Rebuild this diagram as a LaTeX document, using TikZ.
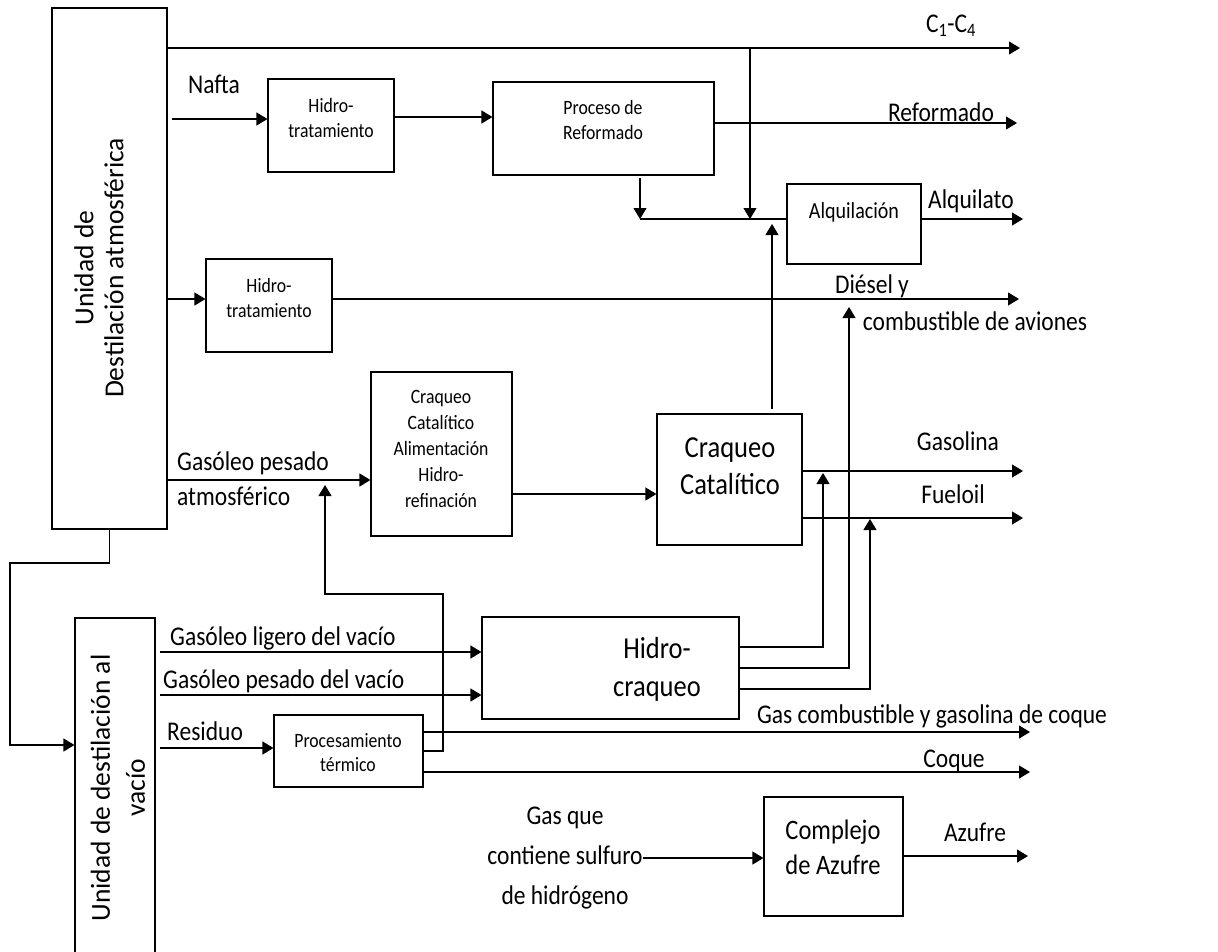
\documentclass[tikz,border=0pt]{standalone}
\usepackage{fontspec}
\setmainfont{Carlito}
\usetikzlibrary{arrows.meta,fit}
\newcommand{\myfs}[2]{\fontsize{#1}{#2}\selectfont}
\begin{document}
\begin{tikzpicture}[x=1pt,y=-1pt,
  box/.style={draw,line width=1.1pt,inner sep=0pt,rectangle},
  ln/.style={line width=1.1pt},
  arr/.style={line width=1.1pt,-{Triangle[length=11pt,width=13pt]}},
  tx/.style={inner sep=0pt,yscale=1.15,transform shape},
  lbl/.style={tx,font=\myfs{23.5}{28.7}},
  small/.style={tx,align=center,font=\myfs{17.7}{21.7}},
  big/.style={tx,align=center,font=\myfs{26.5}{32.6}}]
\useasboundingbox (0,0) rectangle (1218,951);
% boxes
\node[box,fit={(52,8) (167,529)}] (A) {};
\node[box,fit={(268,79) (394,172)}] (H1) {};
\node[box,fit={(493,82) (714,175)}] (REF) {};
\node[box,fit={(787,184) (921,264)}] (ALK) {};
\node[box,fit={(206,259) (332,352)}] (H2) {};
\node[box,fit={(371,372) (512,536)}] (CCF) {};
\node[box,fit={(657,414) (802,545)}] (CC) {};
\node[box,fit={(75,618) (155,962)}] (V) {};
\node[box,fit={(482,617) (739,719)}] (HC) {};
\node[box,fit={(274,715) (423,787)}] (PT) {};
\node[box,fit={(764,797) (903,916)}] (SUL) {};
% box texts
\node[inner sep=0pt,align=center,rotate=90,font=\myfs{27.5}{30}] (tA) at (99,268) {Unidad de\\Destilación atmosférica};
\node[inner sep=0pt,align=center,rotate=90,font=\myfs{27.5}{35}] (tV) at (118,788) {Unidad de destilación al\\vacío};
\node[small] (tH1) at (331,118) {Hidro-\\tratamiento};
\node[small] (tREF) at (603,120) {Proceso de\\Reformado};
\node[tx,font=\myfs{20}{24}] (tALK) at (854,212) {Alquilación};
\node[small] (tH2) at (269,298) {Hidro-\\tratamiento};
\node[tx,align=center,font=\myfs{17.7}{22.6}] (tCCF) at (441,449) {Craqueo\\Catalítico\\Alimentación\\Hidro-\\refinación};
\node[big] (tCC) at (730,466) {Craqueo\\Catalítico};
\node[big,font=\myfs{26.5}{33}] (tHC) at (657,669) {Hidro-\\craqueo};
\node[small,font=\myfs{17.7}{20.9}] (tPT) at (348,753) {Procesamiento\\térmico};
\node[tx,align=center,font=\myfs{24.5}{30.4}] (tSUL) at (833,847) {Complejo\\de Azufre};
% labels
\node[lbl] (lC) at (951,26) {C\textsubscript{1}-C\textsubscript{4}};
\node[lbl] (lN) at (214,84) {Nafta};
\node[lbl] (lR) at (941,112) {Reformado};
\node[lbl] (lAl) at (971,201) {Alquilato};
\node[lbl] (lD1) at (872,286) {Diésel y};
\node[lbl] (lD2) at (975,321) {combustible de aviones};
\node[lbl,anchor=west] (lG1) at (177,463) {Gasóleo pesado};
\node[lbl,anchor=west] (lG2) at (177,496) {atmosférico};
\node[lbl] (lGas) at (958,441) {Gasolina};
\node[lbl] (lF) at (953,494) {Fueloil};
\node[lbl,anchor=west] (lL) at (170,638) {Gasóleo ligero del vacío};
\node[lbl,anchor=west] (lP) at (163,681) {Gasóleo pesado del vacío};
\node[lbl,anchor=west] (lRes) at (167,731) {Residuo};
\node[lbl] (lGC) at (932,716) {Gas combustible y gasolina de coque};
\node[lbl] (lCq) at (954,761) {Coque};
\node[lbl,align=center,font=\myfs{23.5}{34.8}] (gas) at (565,858) {Gas que\\contiene sulfuro\\de hidrógeno};
\node[lbl] (lAz) at (975,832) {Azufre};
% free ends
\coordinate (eC) at (1020,48);
\coordinate (eR) at (1017,123);
\coordinate (eAl) at (1023,219);
\coordinate (eD) at (1019,299);
\coordinate (eGas) at (1023,471);
\coordinate (eF) at (1023,518);
\coordinate (eGC) at (1030,732);
\coordinate (eCq) at (1030,772);
\coordinate (eAz) at (1028,856);
\coordinate (j1) at (750,48);
\coordinate (j2) at (750,219);
\coordinate (j3) at (640,219);
% connectors
\draw[arr] (A.east |- 0,48) -- (eC);
\draw[arr] (j1) -- (j2);
\draw[arr] (172,119) -- (H1.west |- 0,119);
\draw[arr] (H1.east |- 0,117) -- (REF.west |- 0,117);
\draw[arr] (REF.east |- 0,123) -- (eR);
\draw[arr] (640,0 |- REF.south) ++(0,2) -- (j3);
\draw[ln] (j3) -- (ALK.west |- j3);
\draw[arr] (772,0 |- CC.north) ++(0,-4) -- (772,224);
\draw[arr] (ALK.east |- 0,219) -- (eAl);
\draw[arr] (A.east |- 0,299) -- (H2.west |- 0,299);
\draw[arr] (H2.east |- 0,299) -- (eD);
\draw[arr] (A.east |- 0,480) -- (CCF.west |- 0,480);
\draw[arr] (CCF.east |- 0,494) -- (CC.west |- 0,494);
\draw[arr] (CC.east |- 0,471) -- (eGas);
\draw[arr] (CC.east |- 0,518) -- (eF);
\draw[arr] (A.south) -- (109.5,563) -- (10,563) -- (10,745) -- (V.west |- 0,745);
\draw[arr] (160,652) -- (HC.west |- 0,652);
\draw[arr] (160,695) -- (HC.west |- 0,695);
\draw[arr] (160,748) -- (PT.west |- 0,748);
\draw[arr] (PT.east |- 0,732) -- (eGC);
\draw[arr] (PT.east |- 0,751) -- (443,751) -- (443,594) -- (325,594) -- (325,485);
\draw[arr] (PT.east |- 0,772) -- (eCq);
\draw[arr] (HC.east |- 0,647) -- (823,647) -- (823,473);
\draw[arr] (HC.east |- 0,668) -- (849,668) -- (849,307);
\draw[arr] (HC.east |- 0,689) -- (870,689) -- (870,519);
\draw[arr] (gas.east) -- (SUL.west |- gas.east);
\draw[arr] (SUL.east |- 0,856) -- (eAz);
\end{tikzpicture}
\end{document}
